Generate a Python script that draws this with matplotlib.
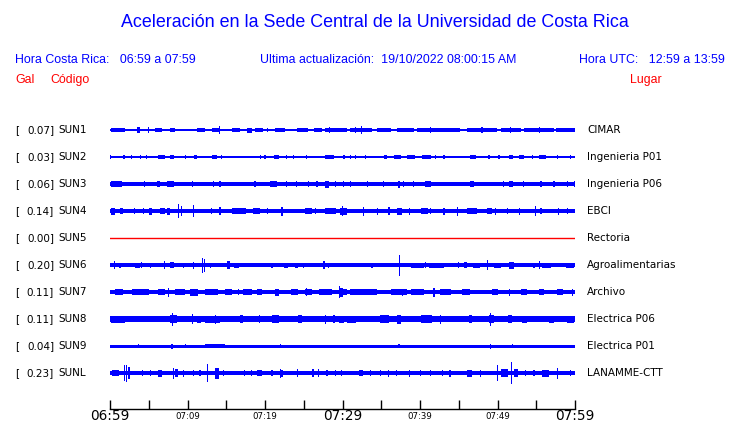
import matplotlib
matplotlib.use("Agg")
import matplotlib.pyplot as plt
import matplotlib.transforms as mtransforms
from matplotlib.ticker import MultipleLocator

# station table
STATIONS = ["SUN1", "SUN2", "SUN3", "SUN4", "SUN5", "SUN6", "SUN7", "SUN8", "SUN9", "SUNL"]
PEAK_GAL = [0.07, 0.03, 0.06, 0.14, 0.00, 0.20, 0.11, 0.11, 0.04, 0.23]
PLACES = ["CIMAR", "Ingenieria P01", "Ingenieria P06", "EBCI", "Rectoria",
          "Agroalimentarias", "Archivo", "Electrica P06", "Electrica P01", "LANAMME-CTT"]
TRACE_COLORS = ["blue"] * 4 + ["red"] + ["blue"] * 5

# minutes after 06:59 ; background half amplitude of each trace (px)
TICK_MIN = [0, 10, 20, 30, 40, 50, 60]
TICK_TXT = ["06:59", "07:09", "07:19", "07:29", "07:39", "07:49", "07:59"]
TICK_BIG = [True, False, False, True, False, False, True]
BASE_HALF = [0.6, 0.6, 2.0, 2.0, 0.0, 1.8, 1.8, 2.7, 1.5, 2.3]

# bursts: (start min, end min, half amplitude px)
SUN1 = [(0.1, 1.9, 1.9), (3.5, 3.9, 2.7), (5.0, 5.0, 3.2), (5.8, 6.7, 1.7), (7.8, 8.4, 1.7),
        (11.2, 12.3, 1.7), (13.1, 14.0, 1.9), (14.1, 14.1, 4.0), (15.7, 16.8, 1.7),
        (17.7, 18.3, 2.5), (18.7, 19.8, 1.7), (20.3, 20.3, 2.3), (21.3, 22.6, 1.7),
        (24.1, 25.6, 1.7), (26.3, 27.4, 1.7), (28.3, 28.3, 3.0), (27.8, 30.6, 1.7),
        (31.0, 33.8, 1.7), (31.7, 31.7, 2.7), (32.5, 32.5, 4.2), (34.5, 36.2, 1.7),
        (37.0, 39.2, 1.7), (39.6, 45.2, 1.7), (41.4, 41.4, 2.7), (46.1, 50.0, 1.7),
        (48.0, 48.0, 2.7), (50.4, 53.0, 1.7), (51.7, 51.7, 2.7), (53.4, 57.3, 1.7),
        (55.4, 55.4, 2.7), (57.5, 60.0, 1.7)]
SUN2 = [(0.1, 0.1, 1.7), (1.8, 1.8, 1.7), (2.8, 2.8, 1.7), (3.9, 3.9, 1.7), (4.7, 4.7, 1.7),
        (6.2, 7.1, 1.7), (7.8, 8.2, 2.0), (9.7, 9.7, 1.7), (10.8, 11.2, 1.7),
        (13.1, 13.8, 2.0), (14.4, 14.4, 1.7), (19.4, 19.4, 1.7), (20.0, 20.0, 1.7),
        (21.1, 21.8, 2.0), (22.8, 22.8, 1.7), (23.7, 23.7, 1.7), (25.4, 25.4, 1.7),
        (27.8, 28.9, 1.7), (30.2, 30.2, 1.7), (31.0, 31.0, 1.7), (31.7, 31.7, 1.7),
        (33.0, 33.0, 1.7), (35.3, 35.8, 2.0), (36.6, 37.5, 1.7), (38.3, 39.4, 1.7),
        (40.3, 41.4, 1.7), (42.0, 42.0, 1.7), (43.1, 43.1, 1.7), (46.5, 47.2, 1.7),
        (48.9, 48.9, 1.7), (50.2, 50.2, 1.7), (51.5, 52.0, 2.0), (52.8, 53.4, 1.7),
        (54.5, 54.5, 1.7), (55.4, 56.2, 1.7), (57.7, 57.7, 1.7), (59.4, 59.4, 1.7)]
SUN3 = [(0.1, 1.5, 2.8), (4.5, 4.5, 2.8), (6.0, 6.5, 3.0), (7.3, 8.2, 3.0), (10.6, 10.6, 3.0),
        (13.4, 13.4, 3.2), (14.2, 14.2, 3.0), (18.7, 18.7, 2.8), (20.7, 21.5, 3.0),
        (22.8, 22.8, 2.8), (24.1, 24.1, 2.8), (25.6, 25.6, 2.8), (26.7, 26.7, 2.8),
        (27.8, 28.2, 3.5), (29.1, 29.1, 2.8), (30.1, 30.1, 2.8), (31.0, 31.0, 3.0),
        (33.2, 33.2, 2.8), (35.3, 35.3, 2.8), (37.3, 37.3, 3.5), (37.9, 37.9, 3.0),
        (39.2, 39.2, 3.0), (40.7, 41.4, 3.0), (46.5, 47.0, 3.0), (50.8, 50.8, 2.8),
        (51.5, 52.0, 3.0), (53.4, 53.4, 2.8), (55.6, 55.6, 3.0), (57.3, 57.3, 2.8),
        (59.0, 59.0, 3.0), (59.9, 59.9, 3.0)]
SUN4 = [(0.1, 0.6, 3.5), (1.3, 1.7, 3.0), (3.2, 3.2, 3.0), (4.3, 4.3, 3.0), (5.0, 5.4, 3.5),
        (6.5, 7.1, 2.8), (7.3, 7.8, 3.5), (8.8, 8.8, 7.0), (9.2, 9.2, 5.0), (10.8, 10.8, 6.3),
        (13.1, 13.1, 3.0), (14.2, 14.2, 4.0), (15.7, 17.5, 2.6), (18.5, 19.4, 2.8),
        (20.3, 20.3, 3.0), (22.2, 22.2, 4.5), (25.2, 26.1, 3.0), (26.5, 26.5, 3.0),
        (27.8, 29.1, 3.0), (30.0, 30.0, 5.0), (29.7, 30.6, 3.5), (32.7, 32.7, 4.5),
        (34.5, 34.5, 3.5), (36.0, 36.0, 4.0), (37.0, 37.7, 3.5), (38.6, 38.6, 3.5),
        (40.1, 41.0, 3.0), (41.4, 41.4, 3.0), (43.1, 43.1, 3.5), (44.8, 44.8, 4.5),
        (46.1, 47.4, 3.0), (48.7, 49.3, 3.0), (49.7, 49.7, 3.5), (51.3, 51.3, 3.0),
        (52.8, 52.8, 3.5), (54.9, 54.9, 5.0), (55.6, 55.6, 3.0), (57.9, 57.9, 3.5),
        (59.0, 59.0, 3.0)]
SUN5 = []
SUN6 = [(0.56, 0.56, 4.0), (1.3, 1.3, 2.5), (2.2, 2.2, 2.2), (3.2, 3.9, 2.5), (4.1, 4.1, 3.0),
        (5.2, 5.2, 2.5), (7.0, 7.0, 4.0), (7.8, 8.2, 3.0), (8.8, 8.8, 2.2), (9.5, 9.5, 2.5),
        (10.8, 10.8, 3.5), (11.9, 11.9, 7.5), (12.2, 12.2, 6.5), (13.0, 13.0, 2.5),
        (15.1, 15.5, 4.0), (16.0, 16.6, 2.5), (17.4, 17.9, 2.2), (19.6, 19.6, 2.2),
        (20.9, 20.9, 2.5), (22.4, 23.0, 2.5), (23.9, 24.3, 2.5), (25.0, 25.0, 2.5),
        (27.6, 27.6, 4.0), (28.2, 28.2, 2.5), (29.3, 29.3, 2.2), (31.0, 31.0, 2.2),
        (32.3, 32.3, 2.2), (33.8, 33.8, 2.5), (36.2, 36.2, 2.2), (37.4, 37.4, 10.5),
        (38.8, 40.5, 2.5), (40.7, 40.7, 3.0), (41.1, 43.1, 2.5), (45.0, 45.0, 3.0),
        (45.7, 46.1, 3.0), (46.9, 47.8, 2.5), (48.7, 48.7, 5.0), (49.5, 50.4, 2.5),
        (51.5, 52.1, 3.5), (54.7, 54.7, 2.5), (55.4, 55.4, 4.0), (55.8, 56.9, 2.5),
        (58.8, 59.9, 2.5)]
SUN7 = [(0.6, 1.7, 2.8), (2.8, 5.0, 2.6), (6.2, 7.1, 2.6), (7.5, 7.5, 4.5), (8.4, 9.7, 2.6),
        (10.3, 11.4, 3.5), (12.3, 14.0, 2.8), (14.9, 15.7, 2.8), (16.6, 16.6, 2.8),
        (17.2, 18.3, 3.0), (19.0, 19.6, 2.8), (21.3, 21.8, 3.5), (23.3, 24.3, 2.8),
        (25.2, 26.1, 3.0), (25.4, 25.4, 4.0), (27.0, 28.6, 2.8), (29.5, 30.1, 4.5),
        (29.6, 29.6, 6.0), (29.7, 30.6, 3.0), (31.0, 34.5, 2.6), (36.2, 38.3, 2.6),
        (37.7, 37.7, 3.5), (38.8, 40.5, 2.6), (41.8, 41.8, 4.5), (42.6, 44.0, 2.6),
        (45.4, 46.5, 2.6), (49.3, 50.0, 3.0), (51.5, 51.5, 3.5), (53.0, 53.8, 2.6),
        (55.4, 56.0, 2.6), (57.7, 58.4, 3.0), (59.7, 59.7, 3.5)]
SUN8 = [(0.1, 1.9, 3.5), (3.0, 3.4, 3.3), (5.4, 6.2, 3.3), (7.8, 8.6, 3.7), (8.05, 8.05, 6.5),
        (9.9, 10.1, 3.3), (10.6, 10.6, 5.0), (11.2, 11.8, 3.5), (12.3, 14.2, 3.5),
        (13.6, 13.6, 4.5), (15.5, 16.2, 3.3), (16.8, 17.2, 3.7), (19.2, 19.4, 3.7),
        (20.9, 21.8, 3.7), (24.3, 24.8, 3.7), (27.8, 27.8, 4.5), (28.9, 28.9, 4.0),
        (29.5, 30.2, 3.5), (30.6, 31.7, 3.5), (32.5, 33.2, 3.3), (34.9, 36.0, 3.7),
        (37.0, 37.5, 4.5), (40.1, 41.6, 4.0), (42.6, 42.6, 4.5), (46.3, 46.7, 3.7),
        (48.9, 49.5, 3.7), (49.1, 49.1, 6.5), (51.3, 51.9, 4.0), (53.2, 53.8, 3.5),
        (56.7, 57.3, 3.5), (59.0, 59.9, 3.5)]
SUN9 = [(3.7, 3.7, 2.2), (8.0, 8.0, 2.5), (9.7, 9.7, 2.2), (12.3, 14.9, 1.8), (22.0, 22.0, 2.2),
        (37.3, 37.3, 2.2), (49.1, 49.1, 2.5), (51.9, 51.9, 2.2)]
SUNL = [(0.2, 1.1, 3.0), (1.85, 1.85, 8.0), (2.15, 2.15, 8.5), (2.45, 2.45, 6.0),
        (4.1, 4.3, 3.0), (5.2, 5.2, 3.0), (6.2, 6.7, 3.5), (8.2, 8.2, 5.5), (8.4, 8.8, 4.0),
        (9.5, 9.5, 3.5), (10.8, 10.8, 3.0), (11.6, 11.6, 3.0), (12.6, 12.6, 9.0),
        (13.6, 14.0, 5.5), (14.6, 14.6, 3.0), (17.4, 17.4, 3.0), (18.3, 18.3, 3.2),
        (19.0, 19.6, 3.0), (20.9, 20.9, 3.0), (22.0, 22.0, 4.5), (22.2, 22.2, 3.5),
        (24.1, 24.3, 4.0), (26.1, 26.3, 4.0), (26.9, 26.9, 4.0), (28.0, 28.0, 3.0),
        (29.1, 29.1, 3.2), (29.9, 29.9, 3.0), (32.1, 32.7, 3.2), (33.6, 33.6, 3.0),
        (34.9, 34.9, 3.0), (35.97, 35.97, 3.5), (37.0, 37.0, 3.0), (38.6, 38.6, 3.5),
        (40.1, 40.1, 3.0), (41.4, 41.4, 3.0), (42.9, 42.9, 3.0), (43.7, 44.0, 3.5),
        (46.1, 46.7, 3.5), (47.8, 47.8, 3.5), (50.0, 50.0, 7.7), (50.4, 51.3, 4.0),
        (51.8, 51.8, 11.0), (52.1, 52.6, 4.0), (53.6, 53.6, 3.2), (54.7, 54.7, 3.0),
        (55.8, 56.6, 3.5), (57.7, 57.7, 5.5), (59.4, 59.4, 3.0)]
BURSTS = [SUN1, SUN2, SUN3, SUN4, SUN5, SUN6, SUN7, SUN8, SUN9, SUNL]

W, H = 740, 423
ROW = 27.0  # px between traces

fig = plt.figure(figsize=(W / 100, H / 100), dpi=100)
# trace area: x 110..575 px, y 116..409 px
ax = fig.add_axes([110 / W, 1 - 409 / H, 465 / W, (409 - 116) / H])
ax.set_xlim(0, 60)
ax.set_ylim(10.33, -0.52)

for i, bursts in enumerate(BURSTS):
    c = TRACE_COLORS[i]
    b = BASE_HALF[i] / ROW
    if b > 0:
        ax.fill_between([0, 60], i - b, i + b, color=c, lw=0, antialiased=False)
    else:
        ax.plot([0, 60], [i, i], color=c, lw=1.0)
    for t0, t1, h in bursts:
        w = max(t1 - t0, 0.16)
        hh = h / ROW
        ax.bar((t0 + t1) / 2, 2 * hh, width=w, bottom=i - hh, color=c, lw=0, antialiased=False)

for s in ["top", "right", "left"]:
    ax.spines[s].set_visible(False)
ax.spines["bottom"].set_linewidth(1.0)
ax.set_yticks([])
ax.set_xticks(TICK_MIN)
ax.set_xticklabels([])
ax.xaxis.set_minor_locator(MultipleLocator(5))
ax.tick_params(axis="x", which="both", direction="in", length=6.5, width=1.0)

# time labels under the axis
tr_time = mtransforms.blended_transform_factory(ax.transData, fig.transFigure)
for t, txt, big in zip(TICK_MIN, TICK_TXT, TICK_BIG):
    ax.text(t, 1 - 416 / H, txt, transform=tr_time, ha="center", va="center",
            fontsize=9.8 if big else 6.2, family="DejaVu Sans", clip_on=False)

# labels left and right of traces
tr = mtransforms.blended_transform_factory(fig.transFigure, ax.transData)
for i in range(len(STATIONS)):
    kw = dict(transform=tr, va="center", fontsize=7.5, family="DejaVu Sans", color="black")
    ax.text(15 / W, i, "[", ha="left", **kw)
    ax.text(54 / W, i, f"{PEAK_GAL[i]:.2f}]", ha="right", **kw)
    ax.text(58 / W, i, STATIONS[i], ha="left", **kw)
    ax.text(587 / W, i, PLACES[i], ha="left", **kw)

hdr = dict(family="Liberation Sans", va="center")
fs = 8.9
fig.text(375 / W, 1 - 22.5 / H, "Aceleración en la Sede Central de la Universidad de Costa Rica",
         ha="center", fontsize=12.85, color="blue", **hdr)
fig.text(15 / W, 1 - 60 / H, "Hora Costa Rica:   06:59 a 07:59", ha="left", fontsize=fs, color="blue", **hdr)
fig.text(260 / W, 1 - 60 / H, "Ultima actualización:  19/10/2022 08:00:15 AM", ha="left", fontsize=fs,
         color="blue", **hdr)
fig.text(725 / W, 1 - 60 / H, "Hora UTC:   12:59 a 13:59", ha="right", fontsize=fs, color="blue", **hdr)
fig.text(15 / W, 1 - 80 / H, "Gal", ha="left", fontsize=fs, color="red", **hdr)
fig.text(50 / W, 1 - 80 / H, "Código", ha="left", fontsize=fs, color="red", **hdr)
fig.text(662 / W, 1 - 80 / H, "Lugar", ha="right", fontsize=fs, color="red", **hdr)

fig.savefig("out.png", dpi=100)
